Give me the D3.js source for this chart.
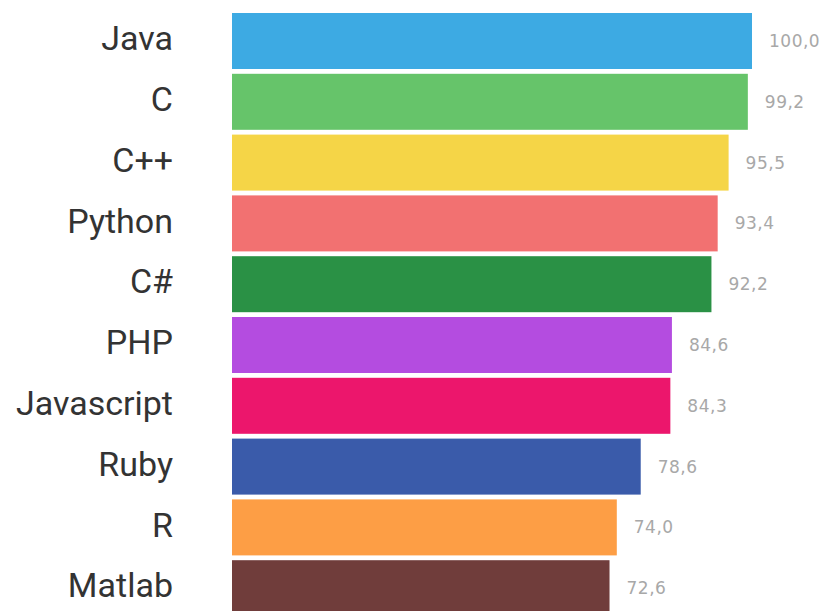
<!DOCTYPE html>
<html><head><meta charset="utf-8">
<script src="https://cdn.jsdelivr.net/npm/d3@7"></script>
<style>body{margin:0;background:#fff}</style>
</head><body>
<svg id="c" width="826" height="611"></svg>
<script>
const categories = ["Java","C","C++","Python","C#","PHP","Javascript","Ruby","R","Matlab"];
const values = [100.0,99.2,95.5,93.4,92.2,84.6,84.3,78.6,74.0,72.6];
const colors = ["#3DAAE3","#66C46A","#F5D547","#F27171","#2A9145","#B44CE0","#EC166C","#3A5BAA","#FD9E45","#703D3B"];

const svg = d3.select("#c");
const x = d3.scaleLinear().domain([0,100]).range([232,752]);
const y = d3.scaleBand().domain(categories).range([13, 13+60.8*10-4.8]).paddingInner(0.079).paddingOuter(0);
const fmt = v => d3.format(".1f")(v).replace(".", ",");
const data = categories.map((c,i)=>({c, v: values[i], col: colors[i]}));

svg.selectAll("rect.bar").data(data).join("rect")
  .attr("class","bar")
  .attr("x", x(0)).attr("y", d=>y(d.c))
  .attr("width", d=>x(d.v)-x(0)).attr("height", y.bandwidth())
  .attr("fill", d=>d.col);

svg.selectAll("text.cat").data(data).join("text")
  .attr("class","cat")
  .attr("x", 173).attr("y", d=>y(d.c)+y.bandwidth()/2)
  .attr("dy","0.27em").attr("text-anchor","end")
  .attr("font-family","Roboto, sans-serif").attr("font-size",34)
  .attr("fill","#333")
  .text(d=>d.c);

svg.selectAll("text.val").data(data).join("text")
  .attr("class","val")
  .attr("x", d=>x(d.v)+17).attr("y", d=>y(d.c)+y.bandwidth()/2)
  .attr("dy","0.35em").attr("text-anchor","start")
  .attr("font-family","'DejaVu Sans', sans-serif").attr("font-size",17)
  .attr("letter-spacing","0.5px")
  .attr("fill","#a8a8a8")
  .text(d=>fmt(d.v));
</script>
</body></html>
